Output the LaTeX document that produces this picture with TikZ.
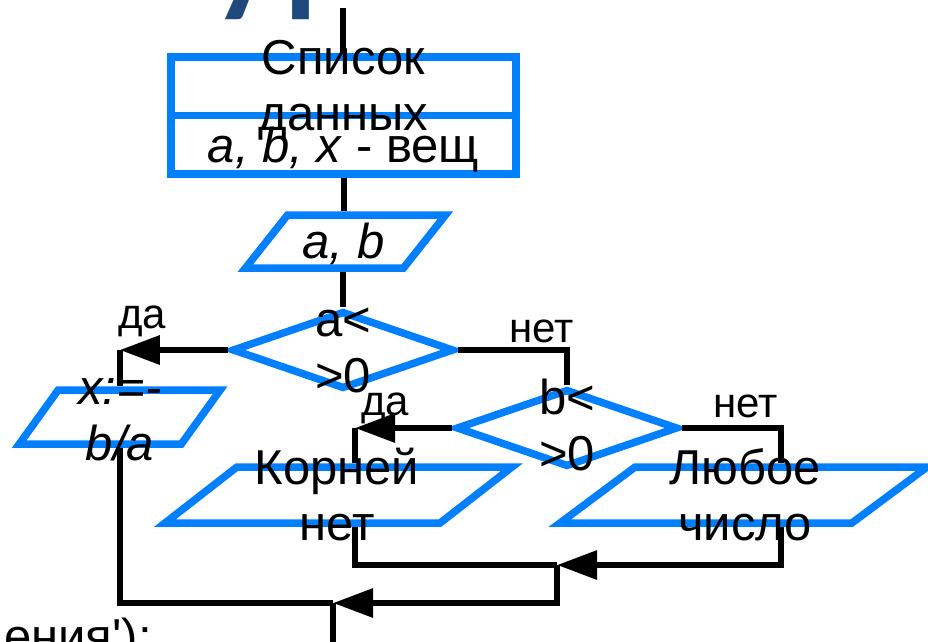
\documentclass[tikz,border=0pt]{standalone}
\usepackage{fontspec}
\setmainfont{Liberation Sans}
\newfontfamily\titlefont{Carlito}
\usetikzlibrary{shapes.geometric, arrows.meta}

\definecolor{flowblue}{RGB}{0,128,255}
\definecolor{titleblue}{RGB}{31,73,125}

\tikzset{
  block/.style={draw=flowblue, line width=7.5pt, rectangle, minimum width=345pt, minimum height=58.5pt, inner sep=0pt},
  io/.style={draw=flowblue, line width=7.5pt, trapezium, trapezium stretches body, inner xsep=0pt},
  cond/.style={draw=flowblue, line width=7.5pt, diamond, minimum width=222pt, minimum height=78pt, inner sep=0pt},
  txt/.style={font=\fontsize{49}{56}\selectfont, align=center, anchor=base, inner sep=0pt},
  lbl/.style={font=\fontsize{42}{48}\selectfont, anchor=base, inner sep=0pt},
  line/.style={line width=6pt},
  arr/.style={line width=6pt, -{Triangle[length=40pt,width=28pt]}},
}

\begin{document}
\begin{tikzpicture}[x=1pt, y=-1pt]
\useasboundingbox (0,0) rectangle (928,641);

% title, cut by the page
\node[anchor=base west, font=\titlefont\bfseries\fontsize{135}{135}\selectfont, text=titleblue, inner sep=0pt] (title) at (212,-2) {у\kern8pt р};

% shapes
\node[block] (list) at (343.5,86.25) {};
\node[block] (vars) at (343.5,144.75) {};
\node[io, trapezium left angle=51.6, trapezium right angle=128.4, minimum width=200pt, inner ysep=26.5pt] (input) at (345.5,241.5) {};
\node[cond] (ifa) at (343,350) {};
\node[cond] (ifb) at (567,428) {};
\node[io, trapezium left angle=54.2, trapezium right angle=125.8, minimum width=201pt, inner ysep=27pt] (xout) at (119.75,417) {};
\node[io, trapezium left angle=37.9, trapezium right angle=142.1, minimum width=347pt, inner ysep=28pt] (none) at (338.5,495) {};
\node[io, trapezium left angle=36.7, trapezium right angle=143.3, minimum width=367pt, inner ysep=28pt] (any) at (743.5,495) {};

% connectors
\coordinate (start) at (343,8);
\coordinate (yes1) at (ifa.west -| xout.north);
\coordinate (yes2) at (355,428);
\coordinate (no2) at (781,428);
\coordinate (m1) at (557,565);
\coordinate (m2) at (333,603);
\coordinate (stop) at (333,660);

\draw[line] (start) -- (start |- list.north);
\draw[line] (vars.south) -- (vars.south |- input.north);
\draw[line] (ifa.north |- input.south) -- (ifa.north);
\draw[arr] (ifa.west) -- (yes1);
\draw[line] (yes1) -- (xout.north);
\draw[line] (ifa.east) -| (ifb.north);
\draw[arr] (ifb.west) -- (yes2);
\draw[line] (yes2) -- (yes2 |- none.north);
\draw[line] (ifb.east) -| (no2 |- any.north);
\draw[line] (none.south -| yes2) |- (m1);
\draw[arr] (any.south -| no2) |- (m1);
\draw[arr] (m1) |- (m2);
\draw[line] (xout.south) |- (m2);
\draw[line] (m2) -- (stop);

% texts (two-line texts sit on their last baseline)
\node[txt] (listtext) at (343.5,130) {Список\\данных};
\node[txt] (varstext) at (343.5,162) {\textit{a, b, x} - вещ};
\node[txt] (inputtext) at (343.5,258) {\textit{a, b}};
\node[txt] (ifatext) at (343,392) {a<\\>0};
\node[txt] (ifbtext) at (567,470) {b<\\>0};
\node[txt] (xouttext) at (120,460) {\textit{x:=-}\\\textit{b/a}};
\node[txt] (nonetext) at (337,540) {Корней\\нет};
\node[txt] (anytext) at (745,540) {Любое\\число};
\node[txt, anchor=base east] (tailtext) at (152,653) {ения\textquotesingle);};

% labels
\node[lbl] (yeslbl1) at (142,328) {да};
\node[lbl] (nolbl1) at (542,342) {нет};
\node[lbl] (yeslbl2) at (385,415) {да};
\node[lbl] (nolbl2) at (746,417) {нет};
\end{tikzpicture}
\end{document}
